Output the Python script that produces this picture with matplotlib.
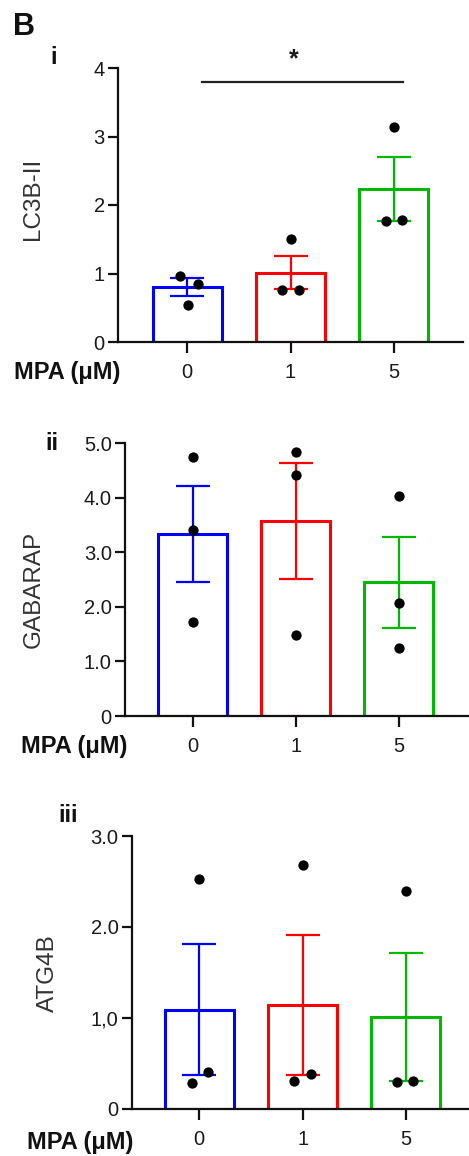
import matplotlib
matplotlib.use("Agg")
import matplotlib.pyplot as plt
import numpy as np

plt.rcParams['font.family'] = ['Liberation Sans', 'DejaVu Sans']

# ---------------- data ----------------
categories = ["0", "1", "5"]
xlabel_text = "MPA (μM)"

# Panel i : LC3B-II
lc3_mean = [0.80, 1.01, 2.23]
lc3_sem = [0.135, 0.24, 0.47]
lc3_points = [[0.96, 0.85, 0.54], [1.50, 0.76, 0.76], [3.14, 1.77, 1.78]]
lc3_ticks = [0, 1, 2, 3, 4]
lc3_ticklabels = ["0", "1", "2", "3", "4"]

# Panel ii : GABARAP
gab_mean = [3.33, 3.58, 2.45]
gab_sem = [0.88, 1.06, 0.83]
gab_points = [[4.75, 3.41, 1.72], [4.84, 4.42, 1.49], [4.04, 2.07, 1.24]]
gab_ticks = [0, 1, 2, 3, 4, 5]
gab_ticklabels = ["0", "1.0", "2.0", "3.0", "4.0", "5.0"]

# Panel iii : ATG4B
atg_mean = [1.09, 1.14, 1.01]
atg_sem = [0.72, 0.77, 0.70]
atg_points = [[2.53, 0.41, 0.29], [2.68, 0.385, 0.31], [2.40, 0.30, 0.31]]
atg_ticks = [0, 1, 2, 3]
atg_ticklabels = ["0", "1,0", "2.0", "3.0"]

# ---------------- style / layout ----------------
colors = ["#0000FF", "#FF0000", "#00B800"]
text_color = "#1a1a1a"

W, H = 469, 1156
fig = plt.figure(figsize=(W / 100, H / 100), dpi=100)


def px_rect(x0, x1, ytop, ybot):
    return [x0 / W, 1 - ybot / H, (x1 - x0) / W, (ybot - ytop) / H]


def draw_panel(rect, xlim, means, sems, points, offsets, ticks, ticklabels, ylim):
    ax = fig.add_axes(rect)
    x = np.arange(len(categories))
    ax.bar(x, means, width=0.67, facecolor="white", edgecolor=colors,
           linewidth=2.2, zorder=2)
    for i in range(len(categories)):
        ax.errorbar(x[i], means[i], yerr=sems[i], color=colors[i],
                    capsize=12, capthick=1.6, elinewidth=1.6, fmt="none", zorder=3)
        ax.scatter(x[i] + np.array(offsets[i]), points[i], s=55, color="black",
                   zorder=4, linewidths=0)
    ax.set_xlim(*xlim)
    ax.set_ylim(*ylim)
    ax.set_xticks(x)
    ax.set_xticklabels(categories)
    ax.set_yticks(ticks)
    ax.set_yticklabels(ticklabels)
    for s in ["top", "right"]:
        ax.spines[s].set_visible(False)
    for s in ["left", "bottom"]:
        ax.spines[s].set_linewidth(1.6)
        ax.spines[s].set_color("#111111")
    ax.tick_params(axis="x", length=8, width=1.6, pad=7, labelsize=14.5,
                   colors="#111111", labelcolor=text_color)
    ax.tick_params(axis="y", length=7, width=1.6, pad=2.5, labelsize=14.5,
                   colors="#111111", labelcolor=text_color)
    ax.patch.set_alpha(0)
    return ax


# Panel i
ax1 = draw_panel(px_rect(118, 463, 68, 342), (-0.67, 2.67), lc3_mean, lc3_sem,
                 lc3_points, [[-0.07, 0.10, 0.01], [0.0, -0.08, 0.08], [0.0, -0.08, 0.08]],
                 lc3_ticks, lc3_ticklabels, (0, 4))
ax1.plot([0.145, 2.09], [3.79, 3.79], color="#222222", lw=1.6, clip_on=False)
ax1.text(1.03, 4.12, "*", ha="center", va="center", fontsize=18,
         fontweight="bold", color=text_color)

# Panel ii
ax2 = draw_panel(px_rect(125, 468, 443.3, 716), (-0.657, 2.673), gab_mean, gab_sem,
                 gab_points, [[0, 0, 0], [0, 0, 0], [0, 0, 0]],
                 gab_ticks, gab_ticklabels, (0, 5))

# Panel iii
ax3 = draw_panel(px_rect(131.7, 469, 836, 1109), (-0.654, 2.611), atg_mean, atg_sem,
                 atg_points, [[0.0, 0.087, -0.074], [0.0, 0.08, -0.08], [0.0, -0.09, 0.07]],
                 atg_ticks, atg_ticklabels, (0, 3))

# y labels
fig.text(33 / W, 1 - 199 / H, "LC3B-II", rotation=90, ha="center", va="center",
         fontsize=17.5, color="#333333")
fig.text(34 / W, 1 - 589 / H, "GABARAP", rotation=90, ha="center", va="center",
         fontsize=17.5, color="#333333")
fig.text(47.5 / W, 1 - 973 / H, "ATG4B", rotation=90, ha="center", va="center",
         fontsize=17.5, color="#333333")

# x labels (MPA)
for xr, yc in [(120, 372), (127, 747), (133, 1142)]:
    fig.text(xr / W, 1 - yc / H, xlabel_text, ha="right", va="center",
             fontsize=17, fontweight="bold", color="#111111")

# panel labels
fig.text(24 / W, 1 - 27 / H, "B", ha="center", va="center", fontsize=22,
         fontweight="bold", color="#111111")
fig.text(54 / W, 1 - 58 / H, "i", ha="center", va="center", fontsize=17,
         fontweight="bold", color="#111111")
fig.text(52 / W, 1 - 444 / H, "ii", ha="center", va="center", fontsize=17,
         fontweight="bold", color="#111111")
fig.text(68 / W, 1 - 815 / H, "iii", ha="center", va="center", fontsize=17,
         fontweight="bold", color="#111111")

fig.savefig("out.png", dpi=100)
